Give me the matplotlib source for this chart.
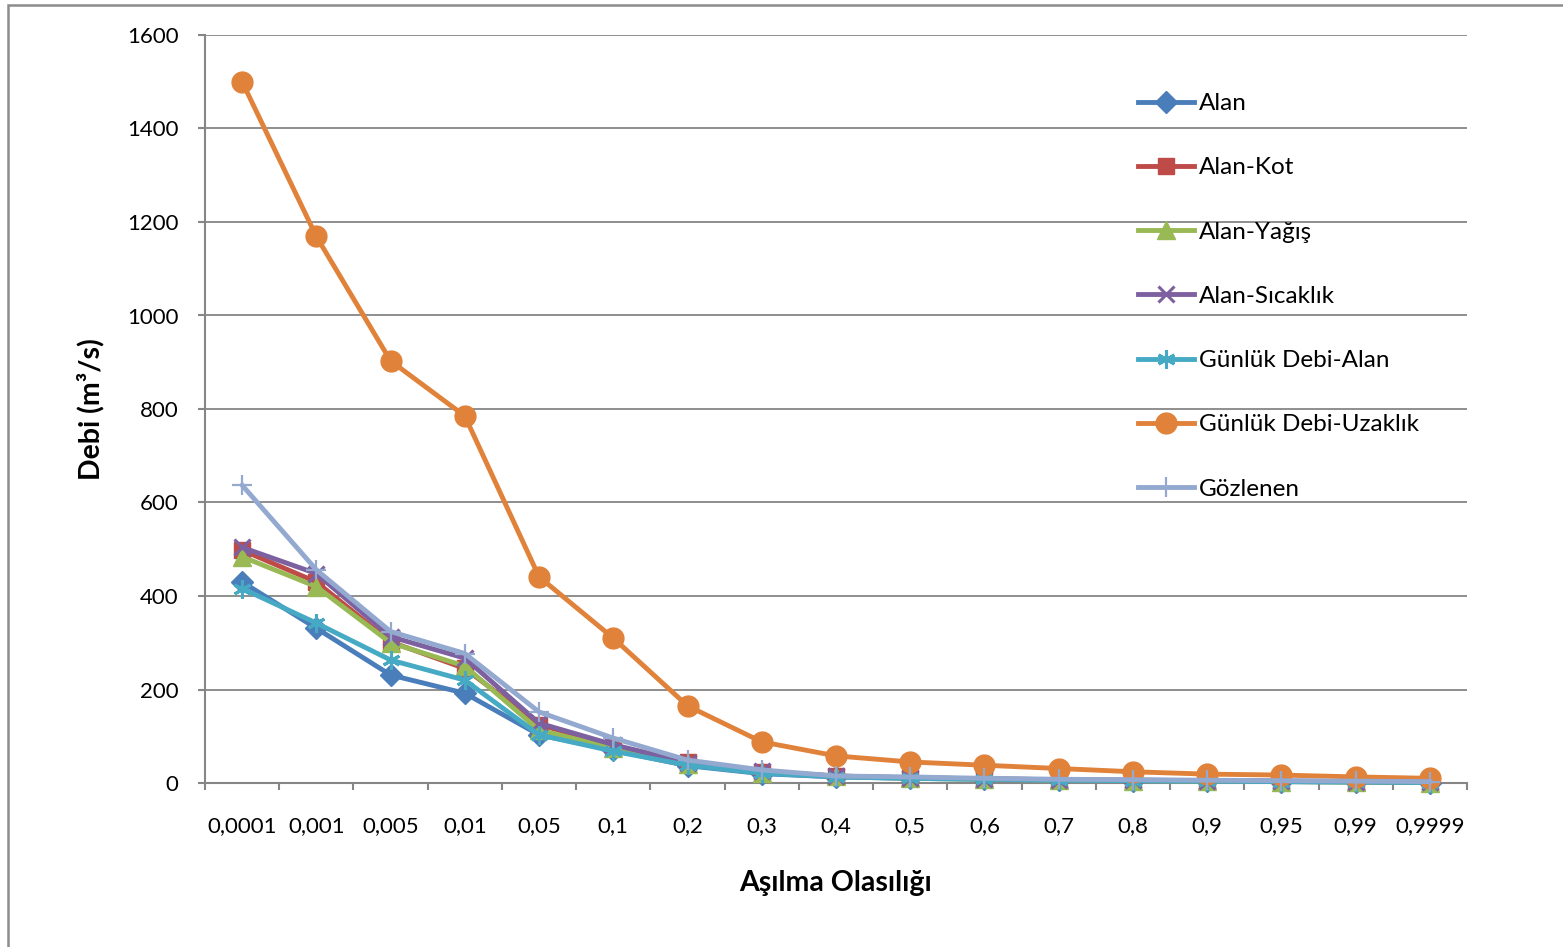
import matplotlib
matplotlib.use("Agg")
import matplotlib.pyplot as plt
from matplotlib.patches import Rectangle
from matplotlib.ticker import FixedLocator

plt.rcParams['font.family'] = ['Lato', 'DejaVu Sans']

# Exceedance probability categories
categories = ['0,0001', '0,001', '0,005', '0,01', '0,05', '0,1', '0,2', '0,3', '0,4',
              '0,5', '0,6', '0,7', '0,8', '0,9', '0,95', '0,99', '0,9999']

# Discharge (m3/s) per model
alan = [430, 331, 231, 192, 103, 70, 37, 20, 13, 10, 8, 6, 5, 4, 3, 2, 1]
alan_kot = [498, 430, 302, 245, 125, 80, 45, 24, 15, 11, 9, 7, 6, 5, 4, 3, 2]
alan_yagis = [484, 420, 300, 250, 113, 75, 40, 22, 14, 10, 8, 6, 5, 4, 3, 2, 1]
alan_sicaklik = [504, 448, 313, 267, 128, 82, 43, 25, 15, 11, 9, 7, 6, 5, 4, 3, 2]
gunluk_alan = [416, 342, 263, 220, 103, 68, 38, 21, 13, 10, 8, 6, 5, 4, 3, 2, 1]
gunluk_uzaklik = [1500, 1169, 903, 785, 441, 310, 165, 88, 58, 45, 38, 31, 24, 19, 17, 13, 10]
gozlenen = [637, 456, 324, 277, 152, 96, 49, 28, 15, 13, 10, 8, 7, 6, 5, 4, 3]

series = [
    ('Alan', alan, '#4A7EBB', dict(marker='D', markersize=11)),
    ('Alan-Kot', alan_kot, '#BE4B48', dict(marker='s', markersize=12)),
    ('Alan-Yağış', alan_yagis, '#98B954', dict(marker='^', markersize=13)),
    ('Alan-Sıcaklık', alan_sicaklik, '#7D60A0', dict(marker='x', markersize=12, markeredgewidth=2.2)),
    ('Günlük Debi-Alan', gunluk_alan, '#46AAC5', dict(marker=(6, 2, 0), markersize=13, markeredgewidth=2.2)),
    ('Günlük Debi-Uzaklık', gunluk_uzaklik, '#E0823A', dict(marker='o', markersize=15)),
    ('Gözlenen', gozlenen, '#93A9D0', dict(marker='+', markersize=15, markeredgewidth=1.6)),
]

W, H = 1563, 947
fig = plt.figure(figsize=(W / 100, H / 100), dpi=100)
ax = fig.add_axes([205 / W, 1 - 783 / H, (1467 - 205) / W, (783 - 35) / H])

# Outer chart frame
fig.patches.append(Rectangle((8 / W, -0.05), 1.2, 1 - 5 / H + 0.05,
                             transform=fig.transFigure, fill=False,
                             edgecolor='#8C8C8C', linewidth=1.8, zorder=0))

x = list(range(len(categories)))
for i, (name, vals, color, mk) in enumerate(series):
    ax.plot(x, vals, color=color, linewidth=3.5, label=name,
            markerfacecolor=color, markeredgecolor=color,
            zorder=3 + i, clip_on=False, **mk)

gray = '#868686'
ax.set_ylim(0, 1600)
ax.set_yticks(range(0, 1601, 200))
ax.set_xlim(-0.5, len(categories) - 0.5)
ax.set_xticks(x)
ax.set_xticklabels(categories)
ax.xaxis.set_minor_locator(FixedLocator([i - 0.5 for i in range(len(categories) + 1)]))
ax.tick_params(axis='x', which='major', length=0, pad=24, labelsize=16)
ax.tick_params(axis='x', which='minor', length=5, width=1.5, color=gray, direction='out')
ax.tick_params(axis='y', which='major', length=5, width=1.5, color=gray, pad=14, labelsize=16)

ax.grid(axis='y', color=gray, linewidth=1.3)
ax.set_axisbelow(True)
for s in ('top', 'right'):
    ax.spines[s].set_visible(False)
for s in ('left', 'bottom'):
    ax.spines[s].set_color(gray)
    ax.spines[s].set_linewidth(1.5)

ax.set_xlabel('Aşılma Olasılığı', fontsize=20.5, fontweight='bold', labelpad=24)
ax.set_ylabel('Debi (m³/s)', fontsize=20.5, fontweight='bold', labelpad=16)

leg = ax.legend(loc='upper left', bbox_to_anchor=((1138 - 205) / (1467 - 205), 1 - (93 - 35) / (783 - 35)),
                frameon=False, fontsize=17.5, handlelength=2.3, handletextpad=0.2,
                labelspacing=1.78, borderpad=0, borderaxespad=0)

fig.savefig('out.png', dpi=100)
